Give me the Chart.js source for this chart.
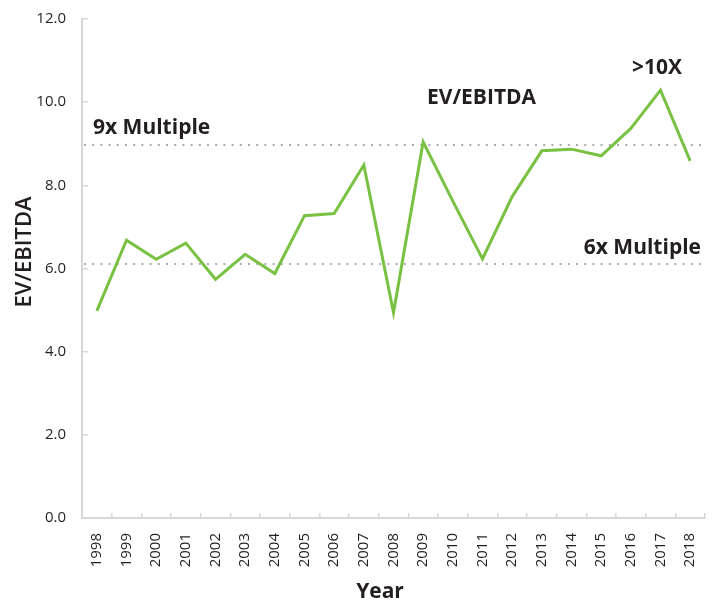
<!DOCTYPE html>
<html lang="en">
<head>
  <meta charset="UTF-8" />
  <title>EV/EBITDA</title>
  <script src="https://cdn.jsdelivr.net/npm/chart.js"></script>
  <style>
    html, body { margin: 0; padding: 0; background: #fff; }
    #chart { display: block; }
  </style>
</head>
<body>
  <canvas id="chart" width="716" height="601"></canvas>

  <script>
    // data
    const years = ['1998', '1999', '2000', '2001', '2002', '2003', '2004', '2005', '2006', '2007',
                   '2008', '2009', '2010', '2011', '2012', '2013', '2014', '2015', '2016', '2017', '2018'];
    const evEbitda = [4.98, 6.68, 6.22, 6.61, 5.74, 6.34, 5.88, 7.27, 7.32, 8.49,
                      4.94, 9.04, 7.62, 6.23, 7.73, 8.83, 8.87, 8.71, 9.37, 10.29, 8.59];
    const multipleLines = [8.96, 6.12];   // dotted "9x" and "6x" reference levels
    const yTicks = [0, 2, 4, 6, 8, 10, 12];

    const ink = '#231f20';
    const axisGrey = '#d6d7d9';

    // dotted reference lines + text labels
    const overlay = {
      id: 'overlay',
      beforeDatasetsDraw(chart) {
        const { ctx, chartArea, scales } = chart;
        ctx.save();
        ctx.strokeStyle = '#a9abae';
        ctx.lineWidth = 2;
        ctx.setLineDash([2, 6.2]);
        multipleLines.forEach(v => {
          const y = Math.round(scales.y.getPixelForValue(v));
          ctx.beginPath();
          ctx.moveTo(chartArea.left + 2, y);
          ctx.lineTo(chartArea.right, y);
          ctx.stroke();
        });
        ctx.restore();
      },
      afterDraw(chart) {
        const ctx = chart.ctx;
        ctx.save();
        ctx.fillStyle = ink;
        ctx.textBaseline = 'alphabetic';
        ctx.font = 'bold 21px "Open Sans"';
        ctx.textAlign = 'left';
        ctx.fillText('9x Multiple', 93, 134);
        ctx.fillText('EV/EBITDA', 427, 104);
        ctx.fillText('>10X', 632, 74);
        ctx.textAlign = 'right';
        ctx.fillText('6x Multiple', 701, 254);

        // axis titles
        ctx.textAlign = 'center';
        ctx.font = 'bold 21px "Open Sans"';
        ctx.fillText('Year', 380, 598);
        ctx.translate(31, 252);
        ctx.rotate(-Math.PI / 2);
        ctx.font = '600 22px "Open Sans"';
        ctx.fillText('EV/EBITDA', 0, 0);
        ctx.restore();
      }
    };

    // no extra room for overhanging labels, layout padding decides the plot box
    function noOverhang(scale) {
      scale.paddingTop = 0;
      scale.paddingBottom = 0;
      scale.paddingLeft = 0;
      scale.paddingRight = 0;
    }

    new Chart(document.getElementById('chart'), {
      type: 'line',
      data: {
        labels: years,
        datasets: [{
          label: 'EV/EBITDA',
          data: evEbitda,
          borderColor: '#79c143',
          borderWidth: 3,
          pointRadius: 0,
          tension: 0,
          fill: false
        }]
      },
      options: {
        responsive: false,
        animation: false,
        layout: { padding: { top: 19, right: 11, left: 0, bottom: 0 } },
        plugins: {
          legend: { display: false },
          tooltip: { enabled: false }
        },
        scales: {
          x: {
            offset: true,
            grid: {
              offset: true,
              drawOnChartArea: false,
              tickLength: -5,
              color: axisGrey,
              lineWidth: 1.5
            },
            border: { color: axisGrey, width: 2 },
            ticks: {
              autoSkip: false,
              minRotation: 90,
              maxRotation: 90,
              padding: 20,
              color: ink,
              font: { family: 'Open Sans', size: 15 }
            },
            afterFit(scale) { scale.height = 83; noOverhang(scale); }
          },
          y: {
            min: 0,
            max: 12,
            afterBuildTicks(scale) { scale.ticks = yTicks.map(v => ({ value: v })); },
            grid: {
              drawOnChartArea: false,
              tickLength: -6,
              color: axisGrey,
              lineWidth: 1.5
            },
            border: { color: axisGrey, width: 2 },
            ticks: {
              padding: 22,
              color: ink,
              font: { family: 'Open Sans', size: 15 },
              callback: v => Number(v).toFixed(1)
            },
            afterFit(scale) { scale.width = 82; noOverhang(scale); }
          }
        }
      },
      plugins: [overlay]
    });
  </script>
</body>
</html>
